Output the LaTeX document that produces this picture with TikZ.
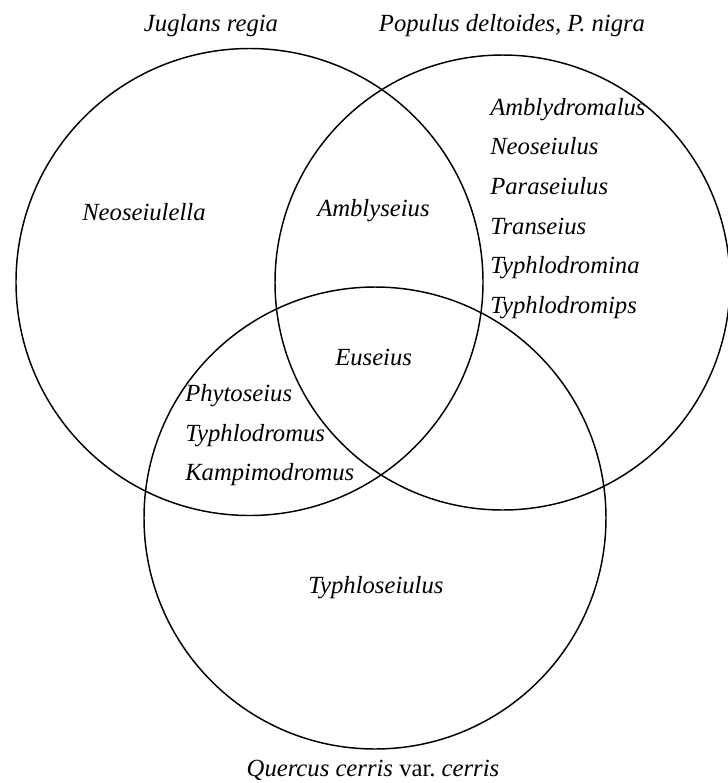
\documentclass[tikz,border=0pt]{standalone}
\usepackage{fontspec}
\setmainfont{Liberation Serif}
\usetikzlibrary{positioning}

\begin{document}
\begin{tikzpicture}[x = 0.75pt, y = -0.75pt,
    taxon/.style={font=\fontsize{18.5}{22}\selectfont\itshape, inner sep=0pt,
        text height=0.7em, text depth=0.2em},
    ring/.style={draw=black, line width=1.1pt}]

            \useasboundingbox (0,0) rectangle (728,783);

            % the three hosts
            \draw[ring] (249.5,282) circle (233.5);
            \draw[ring] (502.5,282.5) circle (227.5);
            \draw[ring] (375,518) circle (231);

            \node[taxon] (juglans) at (211,28) {Juglans regia};
            \node[taxon] (populus) at (512,28) {Populus deltoides, P. nigra};
            \node[taxon] (quercus) at (373,773) {Quercus cerris \upshape var.\ \itshape cerris};

            % genera
            \node[taxon, anchor=west] (neoseiulella) at (82,217) {Neoseiulella};
            \node[taxon, anchor=west] (amblyseius) at (317,213) {Amblyseius};
            \node[taxon, anchor=west] (euseius) at (335,362) {Euseius};
            \node[taxon, anchor=west] (typhloseiulus) at (308,590) {Typhloseiulus};

            \foreach \genus [count=\i] in {Phytoseius, Typhlodromus, Kampimodromus}
            \node[taxon, anchor=west] (jq\i) at (185, 359 + 39.5*\i) {\genus};

            \foreach \genus [count=\i] in {Amblydromalus, Neoseiulus, Paraseiulus,
                Transeius, Typhlodromina, Typhlodromips}
            \node[taxon, anchor=west] (pd\i) at (490, 72.4 + 39.6*\i) {\genus};
            \end{tikzpicture}
\end{document}
